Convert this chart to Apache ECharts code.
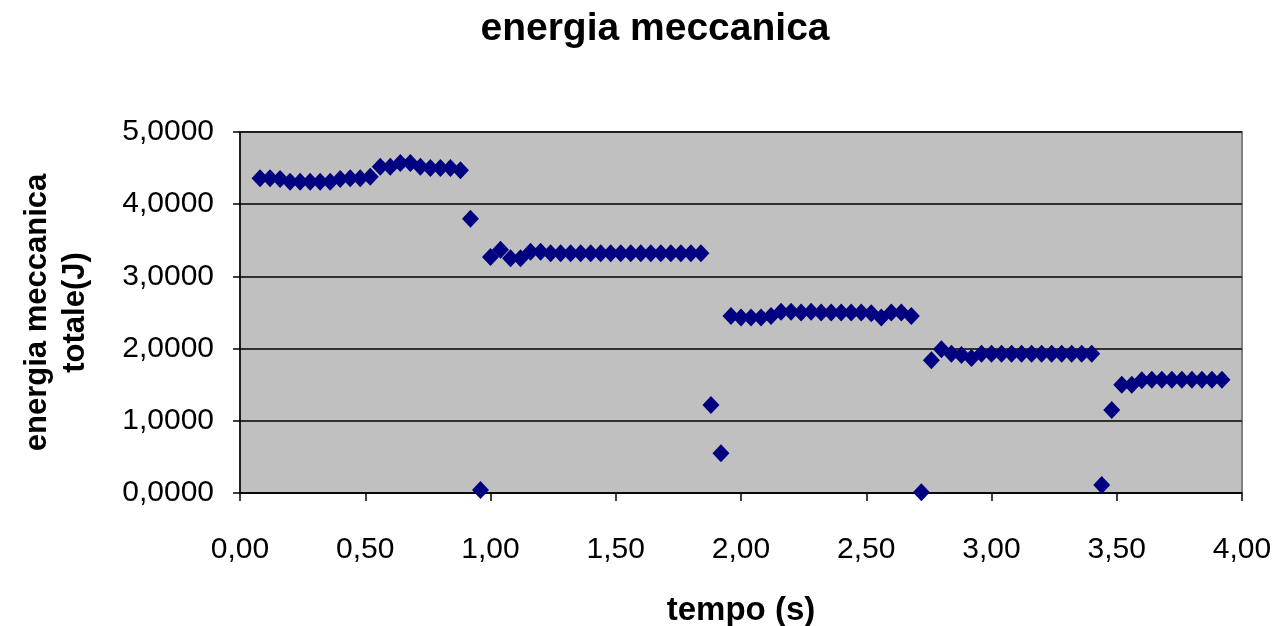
<!DOCTYPE html>
<html lang="it">
<head>
    <meta charset="UTF-8">
    <title>energia meccanica</title>
    <script src="https://cdn.jsdelivr.net/npm/echarts@6/dist/echarts.min.js"></script>
    <style>
        html, body { margin: 0; padding: 0; background: #fff; }
        #chart { width: 1278px; height: 626px; }
    </style>
</head>
<body>
<div id="chart"></div>
<script>
    // tempo (s) di ogni misura
    var tempo = [
        0.08, 0.12, 0.16, 0.20, 0.24, 0.28, 0.32, 0.36, 0.40, 0.44,
        0.48, 0.52, 0.56, 0.60, 0.64, 0.68, 0.72, 0.76, 0.80, 0.84,
        0.88, 0.92, 0.96, 1.00, 1.04, 1.08, 1.12, 1.16, 1.20, 1.24,
        1.28, 1.32, 1.36, 1.40, 1.44, 1.48, 1.52, 1.56, 1.60, 1.64,
        1.68, 1.72, 1.76, 1.80, 1.84, 1.88, 1.92, 1.96, 2.00, 2.04,
        2.08, 2.12, 2.16, 2.20, 2.24, 2.28, 2.32, 2.36, 2.40, 2.44,
        2.48, 2.52, 2.56, 2.60, 2.64, 2.68, 2.72, 2.76, 2.80, 2.84,
        2.88, 2.92, 2.96, 3.00, 3.04, 3.08, 3.12, 3.16, 3.20, 3.24,
        3.28, 3.32, 3.36, 3.40, 3.44, 3.48, 3.52, 3.56, 3.60, 3.64,
        3.68, 3.72, 3.76, 3.80, 3.84, 3.88, 3.92
    ];
    // energia meccanica totale (J)
    var energia = [
        4.36, 4.36, 4.35, 4.31, 4.31, 4.31, 4.31, 4.31, 4.35, 4.36,
        4.36, 4.38, 4.52, 4.52, 4.57, 4.57, 4.52, 4.50, 4.50, 4.50,
        4.47, 3.80, 0.04, 3.27, 3.37, 3.25, 3.25, 3.34, 3.34, 3.32,
        3.32, 3.32, 3.32, 3.32, 3.32, 3.32, 3.32, 3.32, 3.32, 3.32,
        3.32, 3.32, 3.32, 3.32, 3.32, 1.22, 0.55, 2.45, 2.43, 2.43,
        2.43, 2.45, 2.51, 2.51, 2.50, 2.51, 2.50, 2.50, 2.50, 2.50,
        2.50, 2.49, 2.43, 2.50, 2.50, 2.45, 0.01, 1.84, 1.99, 1.93,
        1.91, 1.87, 1.93, 1.93, 1.93, 1.93, 1.93, 1.93, 1.93, 1.93,
        1.93, 1.93, 1.93, 1.93, 0.11, 1.15, 1.50, 1.50, 1.56, 1.57,
        1.57, 1.57, 1.57, 1.57, 1.57, 1.57, 1.57
    ];

    var punti = [];
    for (var i = 0; i < tempo.length; i++) {
        punti.push([tempo[i], energia[i]]);
    }

    var font = 'Liberation Sans, Arial, sans-serif';
    var chart = echarts.init(document.getElementById('chart'));
    var option = {
        animation: false,
        title: {
            text: 'energia meccanica',
            left: 650,
            top: 5,
            textAlign: 'center',
            textStyle: { fontFamily: font, fontSize: 39, fontWeight: 'bold', color: '#000' }
        },
        grid: {
            left: 240,
            right: 36,
            top: 132,
            bottom: 133,
            outerBoundsMode: 'none',
            show: true,
            backgroundColor: '#c0c0c0',
            borderColor: '#808080',
            borderWidth: 2
        },
        xAxis: {
            type: 'value',
            min: 0,
            max: 4,
            interval: 0.5,
            name: 'tempo (s)',
            nameLocation: 'middle',
            nameGap: 101,
            nameTextStyle: { fontFamily: font, fontSize: 33, fontWeight: 'bold', color: '#000' },
            axisLine: { show: true, onZero: false, lineStyle: { color: '#000', width: 1.5 } },
            axisTick: { show: true, length: 8, lineStyle: { color: '#000', width: 1.5 } },
            axisLabel: {
                margin: 42,
                fontFamily: font,
                fontSize: 30,
                color: '#000',
                formatter: function (v) { return v.toFixed(2).replace('.', ','); }
            },
            splitLine: { show: false }
        },
        yAxis: {
            type: 'value',
            min: 0,
            max: 5,
            interval: 1,
            name: 'energia meccanica\ntotale(J)',
            nameLocation: 'middle',
            nameRotate: 90,
            nameGap: 146,
            nameTextStyle: { fontFamily: font, fontSize: 31, fontWeight: 'bold', color: '#000', lineHeight: 38, align: 'center' },
            axisLine: { show: true, lineStyle: { color: '#000', width: 1.5 } },
            axisTick: { show: true, length: 7, lineStyle: { color: '#000', width: 1.5 } },
            axisLabel: {
                margin: 26,
                fontFamily: font,
                fontSize: 30,
                color: '#000',
                padding: [12, 0, 0, 0],
                formatter: function (v) { return v.toFixed(4).replace('.', ','); }
            },
            splitLine: { show: true, lineStyle: { color: '#000', width: 1.5 } }
        },
        series: [
            {
                name: 'energia meccanica',
                type: 'scatter',
                symbol: 'diamond',
                symbolSize: [17, 18],
                itemStyle: { color: '#000080', opacity: 1 },
                data: punti
            }
        ]
    };
    chart.setOption(option);
</script>
</body>
</html>
